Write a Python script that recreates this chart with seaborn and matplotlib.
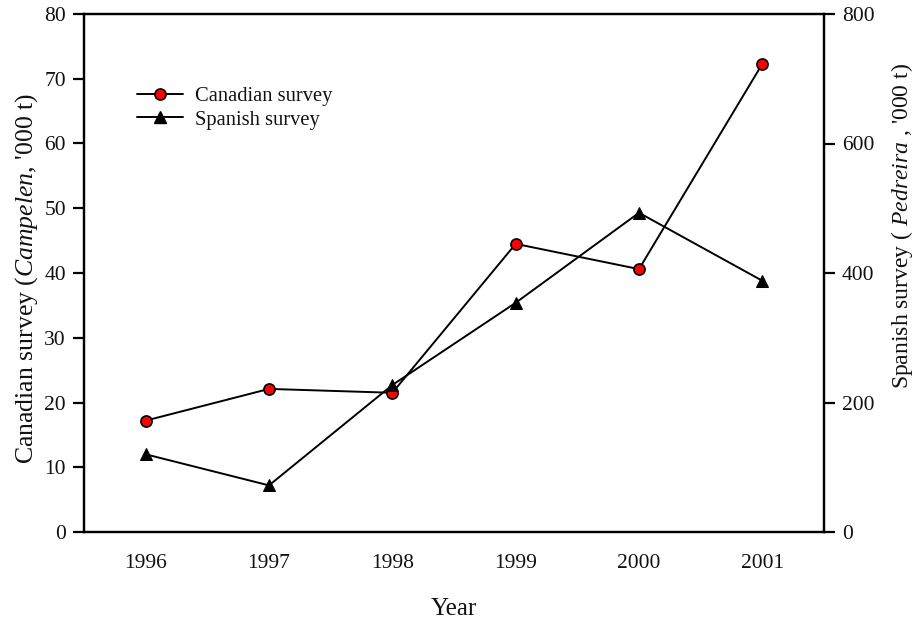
import matplotlib
matplotlib.use("Agg")
import matplotlib.pyplot as plt
import seaborn as sns
import pandas as pd
from matplotlib.lines import Line2D

years = [1996, 1997, 1998, 1999, 2000, 2001]
canadian = [17.2, 22.1, 21.5, 44.5, 40.6, 72.3]
spanish = [120, 72, 227, 354, 493, 388]

sns.set_theme(style="white")
plt.rcParams["font.family"] = ["Liberation Serif", "DejaVu Serif"]
plt.rcParams["mathtext.fontset"] = "custom"
plt.rcParams["mathtext.rm"] = "Liberation Serif"
plt.rcParams["mathtext.it"] = "Liberation Serif:italic"

df = pd.DataFrame({"Year": years, "Canadian": canadian, "Spanish": spanish})

fig = plt.figure(figsize=(9.15, 6.23), dpi=100)
ax = fig.add_axes([84 / 915, 1 - 532 / 623, (824 - 84) / 915, (532 - 14) / 623])
ax2 = ax.twinx()

sns.lineplot(data=df, x="Year", y="Canadian", ax=ax, color="black", lw=1.4,
             marker="o", markersize=8, markerfacecolor="red",
             markeredgecolor="black", markeredgewidth=1.2, zorder=3)
sns.lineplot(data=df, x="Year", y="Spanish", ax=ax2, color="black", lw=1.4,
             marker="^", markersize=9, markerfacecolor="black",
             markeredgecolor="black", zorder=3)

ax.set_xlim(1995.5, 2001.5)
ax.set_ylim(0, 80)
ax2.set_ylim(0, 800)
ax.set_xticks(years)
ax.set_xticklabels([str(y) for y in years])
ax.set_yticks(range(0, 81, 10))
ax2.set_yticks(range(0, 801, 200))

for a in (ax, ax2):
    for s in a.spines.values():
        s.set_color("black")
        s.set_linewidth(1.6)
    a.tick_params(direction="out", length=8, width=1.6, color="black",
                  labelsize=15.5, labelcolor="#111111", pad=5)
ax.tick_params(axis="x", pad=8)

ax.set_xlabel("Year", fontsize=18, labelpad=18, color="#111111")
ax.set_ylabel(r"Canadian survey ($\it{Campelen}$, '000 t)", fontsize=18.5,
              color="#111111")
ax.yaxis.set_label_coords(-0.060, 0.49)
ax2.set_ylabel(r"Spanish survey ( $\it{Pedreira}$ , '000 t)", fontsize=17,
               color="#111111")
ax2.yaxis.set_label_coords(1.088, 0.59)

handles = [
    Line2D([], [], color="black", lw=1.4, marker="o", markersize=8,
           markerfacecolor="red", markeredgecolor="black", markeredgewidth=1.2),
    Line2D([], [], color="black", lw=1.4, marker="^", markersize=9,
           markerfacecolor="black", markeredgecolor="black"),
]
ax.legend(handles, ["Canadian survey", "Spanish survey"], loc="upper left",
          bbox_to_anchor=(0.047, 0.896), frameon=False, fontsize=14.8,
          handlelength=2.2, handletextpad=0.6, labelspacing=0.22,
          labelcolor="#111111")

fig.savefig("out.png", dpi=100)
